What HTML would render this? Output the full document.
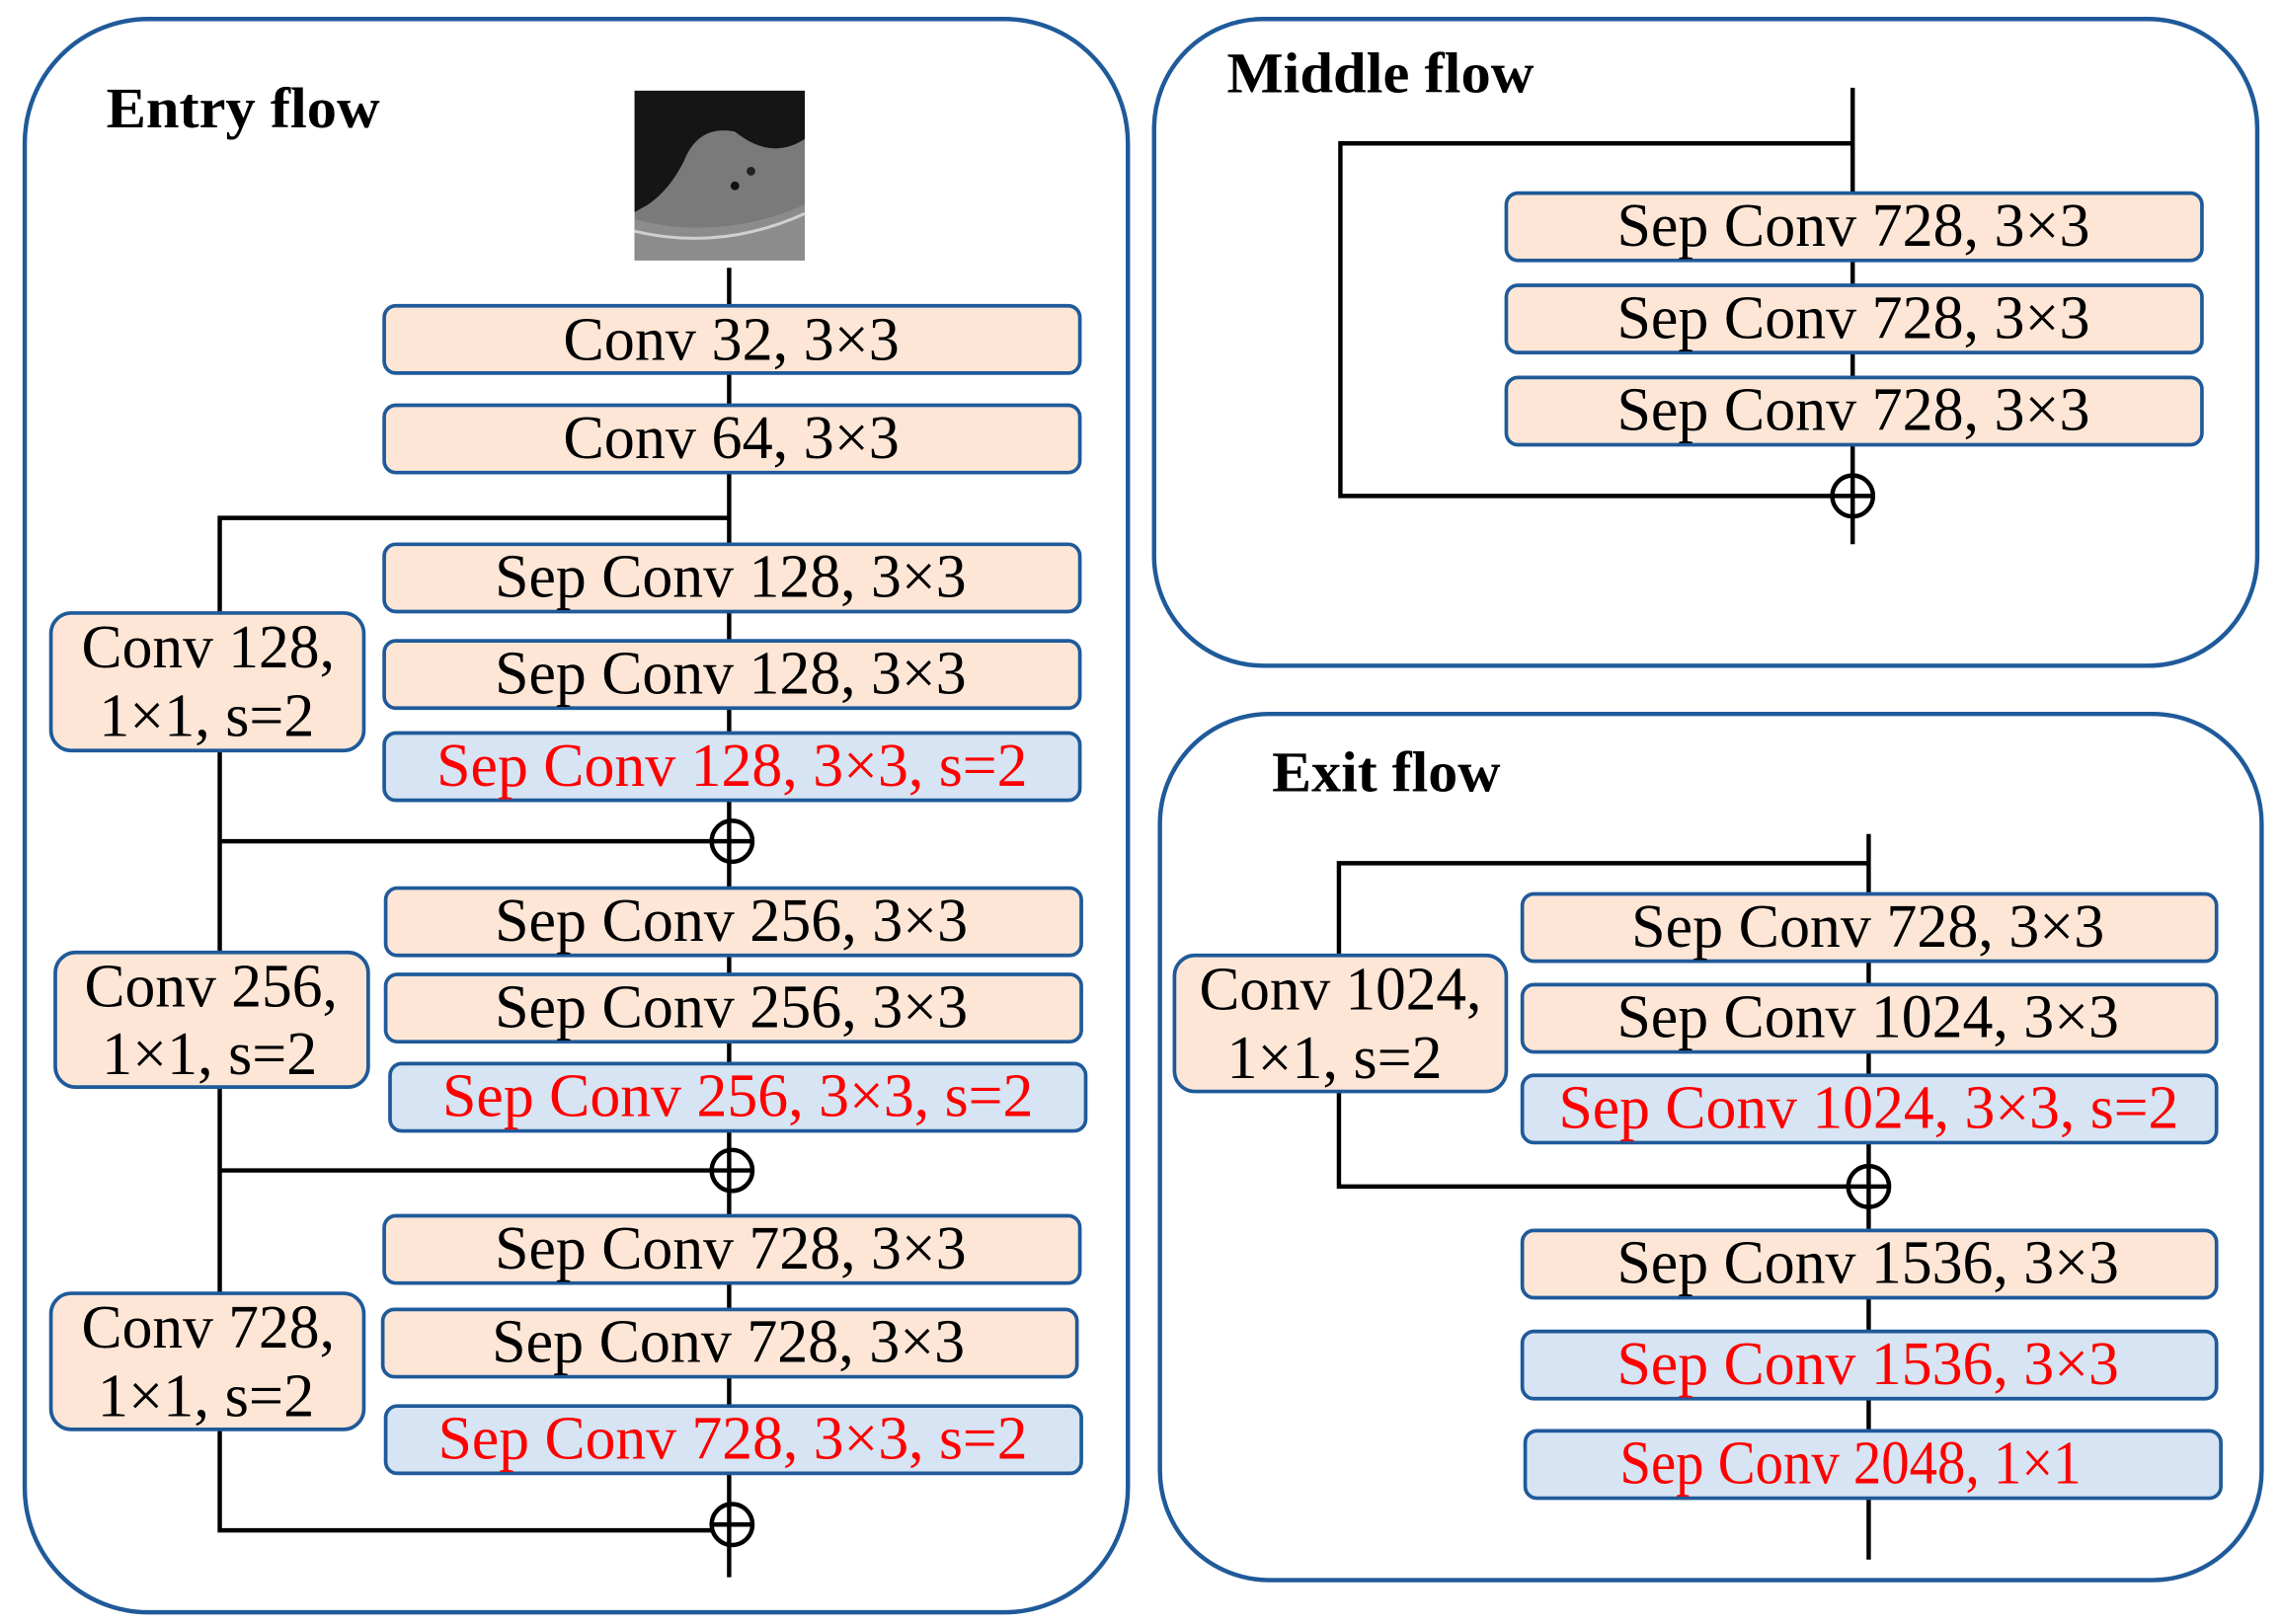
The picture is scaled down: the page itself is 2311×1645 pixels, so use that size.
<!DOCTYPE html>
<html><head><meta charset="utf-8"><style>html,body{margin:0;padding:0;background:#fff;}svg{display:block}</style></head>
<body>
<svg width="2311" height="1645" viewBox="0 0 1568 1110" preserveAspectRatio="none" xmlns="http://www.w3.org/2000/svg">
<g fill="none" stroke="#1f5a9a" stroke-width="3">
<rect x="17" y="13" width="758" height="1089" rx="85"/>
<rect x="793" y="13" width="758" height="442" rx="75"/>
<rect x="797" y="488" width="757" height="592" rx="75"/>
</g>
<g font-family="Liberation Serif, serif" font-weight="bold" font-size="39" fill="#000">
<text x="73" y="87" textLength="188" lengthAdjust="spacingAndGlyphs">Entry flow</text>
<text x="843" y="63" textLength="211" lengthAdjust="spacingAndGlyphs">Middle flow</text>
<text x="874" y="541" textLength="157" lengthAdjust="spacingAndGlyphs">Exit flow</text>
</g>
<!-- CT image -->
<rect x="436" y="62" width="117" height="116" fill="#7a7a7a"/>
<path d="M436 62 H553 V95 Q530 110 505 90 Q480 85 470 110 Q460 130 445 140 L436 145 Z" fill="#151515"/>
<path d="M436 150 Q495 165 553 140 V178 H436 Z" fill="#8c8c8c"/>
<path d="M436 158 Q495 172 553 146" stroke="#d0d0d0" stroke-width="2" fill="none"/>
<circle cx="505" cy="127" r="3" fill="#111"/>
<circle cx="516" cy="117" r="3" fill="#222"/>
<g stroke="#000" stroke-width="3" fill="none">
<line x1="501" y1="183" x2="501" y2="1078"/>
<polyline points="501,354 151,354 151,1046 489,1046"/>
<line x1="151" y1="575" x2="489" y2="575"/>
<line x1="151" y1="800" x2="489" y2="800"/>
<circle cx="503" cy="575" r="14"/><line x1="489" y1="575" x2="517" y2="575"/>
<circle cx="503" cy="800" r="14"/><line x1="489" y1="800" x2="517" y2="800"/>
<circle cx="503" cy="1042" r="14"/><line x1="489" y1="1042" x2="517" y2="1042"/>
<line x1="1273" y1="60" x2="1273" y2="372"/>
<polyline points="1273,98 921,98 921,339 1259,339"/>
<circle cx="1273" cy="339" r="14"/><line x1="1259" y1="339" x2="1287" y2="339"/>
<line x1="1284" y1="570" x2="1284" y2="1066"/>
<polyline points="1284,590 920,590 920,811 1270,811"/>
<circle cx="1284" cy="811" r="14"/><line x1="1270" y1="811" x2="1298" y2="811"/>
</g>
<g stroke="#1f5a9a" stroke-width="2.5">
<g fill="#fde6d6">
<rect x="264" y="209" width="478" height="46" rx="8"/>
<rect x="264" y="277" width="478" height="46" rx="8"/>
<rect x="264" y="372" width="478" height="46" rx="8"/>
<rect x="264" y="438" width="478" height="46" rx="8"/>
<rect x="265" y="607" width="478" height="46" rx="8"/>
<rect x="265" y="666" width="478" height="46" rx="8"/>
<rect x="264" y="831" width="478" height="46" rx="8"/>
<rect x="263" y="895" width="477" height="46" rx="8"/>
<rect x="35" y="419" width="215" height="94" rx="14"/>
<rect x="38" y="651" width="215" height="92" rx="14"/>
<rect x="35" y="884" width="215" height="93" rx="14"/>
<rect x="1035" y="132" width="478" height="46" rx="8"/>
<rect x="1035" y="195" width="478" height="46" rx="8"/>
<rect x="1035" y="258" width="478" height="46" rx="8"/>
<rect x="1046" y="611" width="477" height="46" rx="8"/>
<rect x="1046" y="673" width="477" height="46" rx="8"/>
<rect x="1046" y="841" width="477" height="46" rx="8"/>
<rect x="807" y="653" width="228" height="93" rx="14"/>
</g>
<g fill="#d6e4f3">
<rect x="264" y="501" width="478" height="46" rx="8"/>
<rect x="268" y="727" width="478" height="46" rx="8"/>
<rect x="265" y="961" width="478" height="46" rx="8"/>
<rect x="1046" y="735" width="477" height="46" rx="8"/>
<rect x="1046" y="910" width="477" height="46" rx="8"/>
<rect x="1048" y="978" width="478" height="46" rx="8"/>
</g>
</g>
<g font-family="Liberation Serif, serif" font-size="42" fill="#000">
<text x="387" y="246" textLength="231" lengthAdjust="spacingAndGlyphs">Conv 32, 3×3</text>
<text x="387" y="313" textLength="231" lengthAdjust="spacingAndGlyphs">Conv 64, 3×3</text>
<text x="340" y="408" textLength="324" lengthAdjust="spacingAndGlyphs">Sep Conv 128, 3×3</text>
<text x="340" y="474" textLength="324" lengthAdjust="spacingAndGlyphs">Sep Conv 128, 3×3</text>
<text x="300" y="537" textLength="406" lengthAdjust="spacingAndGlyphs" fill="#ff0000">Sep Conv 128, 3×3, s=2</text>
<text x="340" y="643" textLength="325" lengthAdjust="spacingAndGlyphs">Sep Conv 256, 3×3</text>
<text x="340" y="702" textLength="325" lengthAdjust="spacingAndGlyphs">Sep Conv 256, 3×3</text>
<text x="304" y="763" textLength="406" lengthAdjust="spacingAndGlyphs" fill="#ff0000">Sep Conv 256, 3×3, s=2</text>
<text x="340" y="867" textLength="324" lengthAdjust="spacingAndGlyphs">Sep Conv 728, 3×3</text>
<text x="338" y="931" textLength="325" lengthAdjust="spacingAndGlyphs">Sep Conv 728, 3×3</text>
<text x="301" y="997" textLength="405" lengthAdjust="spacingAndGlyphs" fill="#ff0000">Sep Conv 728, 3×3, s=2</text>
<text x="56" y="456" textLength="174" lengthAdjust="spacingAndGlyphs">Conv 128,</text>
<text x="68" y="503" textLength="148" lengthAdjust="spacingAndGlyphs">1×1, s=2</text>
<text x="58" y="688" textLength="174" lengthAdjust="spacingAndGlyphs">Conv 256,</text>
<text x="70" y="734" textLength="148" lengthAdjust="spacingAndGlyphs">1×1, s=2</text>
<text x="56" y="921" textLength="174" lengthAdjust="spacingAndGlyphs">Conv 728,</text>
<text x="67" y="968" textLength="149" lengthAdjust="spacingAndGlyphs">1×1, s=2</text>
<text x="1111" y="168" textLength="325" lengthAdjust="spacingAndGlyphs">Sep Conv 728, 3×3</text>
<text x="1111" y="231" textLength="325" lengthAdjust="spacingAndGlyphs">Sep Conv 728, 3×3</text>
<text x="1111" y="294" textLength="325" lengthAdjust="spacingAndGlyphs">Sep Conv 728, 3×3</text>
<text x="1121" y="647" textLength="325" lengthAdjust="spacingAndGlyphs">Sep Conv 728, 3×3</text>
<text x="1111" y="709" textLength="345" lengthAdjust="spacingAndGlyphs">Sep Conv 1024, 3×3</text>
<text x="1071" y="771" textLength="426" lengthAdjust="spacingAndGlyphs" fill="#ff0000">Sep Conv 1024, 3×3, s=2</text>
<text x="1111" y="877" textLength="345" lengthAdjust="spacingAndGlyphs">Sep Conv 1536, 3×3</text>
<text x="1111" y="946" textLength="345" lengthAdjust="spacingAndGlyphs" fill="#ff0000">Sep Conv 1536, 3×3</text>
<text x="1113" y="1014" textLength="317" lengthAdjust="spacingAndGlyphs" fill="#ff0000">Sep Conv 2048, 1×1</text>
<text x="824" y="690" textLength="194" lengthAdjust="spacingAndGlyphs">Conv 1024,</text>
<text x="843" y="737" textLength="148" lengthAdjust="spacingAndGlyphs">1×1, s=2</text>
</g>
</svg>
</body></html>
